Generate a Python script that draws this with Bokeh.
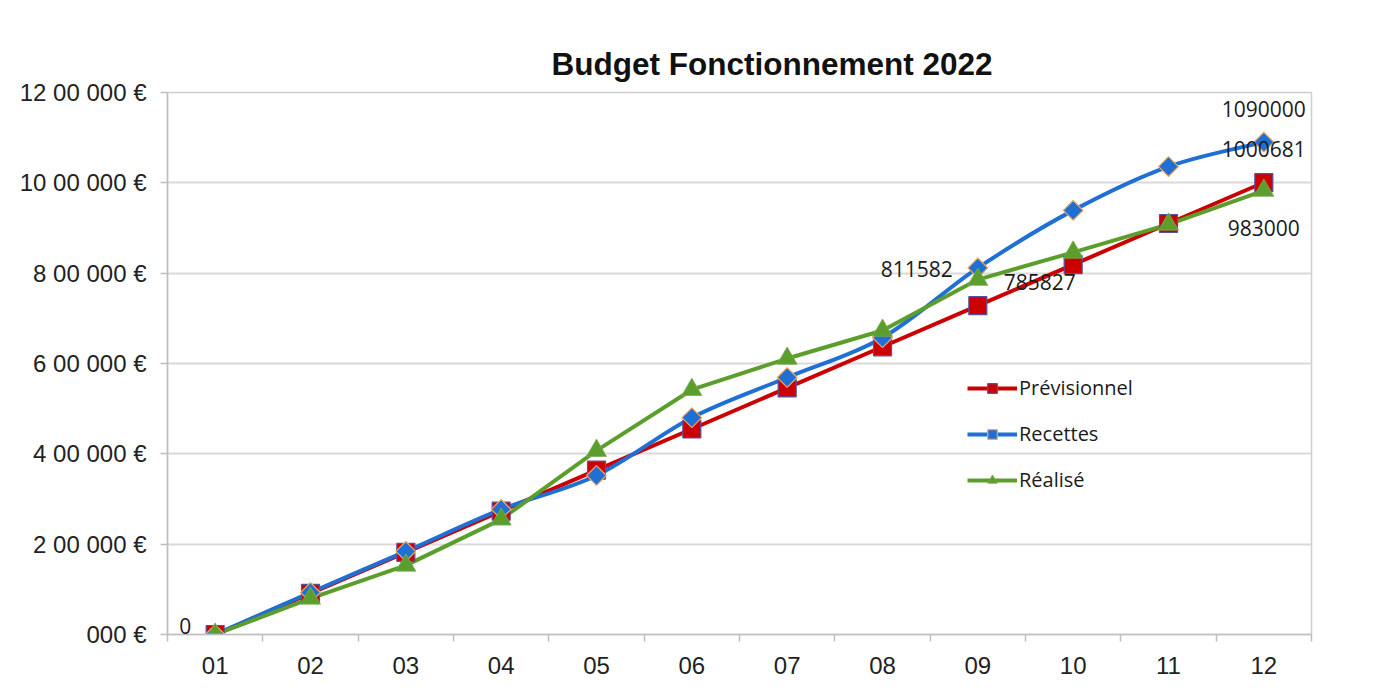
import math
from bokeh.plotting import figure
from bokeh.models import FixedTicker, Legend, LegendItem, ColumnDataSource, Label
from bokeh.embed import file_html
from bokeh.resources import INLINE

# ---- data ----
months = ["01", "02", "03", "04", "05", "06", "07", "08", "09", "10", "11", "12"]
previsionnel = [0, 91000, 182000, 273000, 364000, 455000, 546000, 637000, 728000, 819000, 910000, 1000681]
recettes = [0, 93000, 184000, 277000, 352000, 480000, 569000, 657000, 811582, 939000, 1036000, 1090000]
realise = [0, 80000, 153000, 255000, 407000, 542000, 611000, 673000, 785827, 846000, 908000, 983000]
y_ticks = [0, 200000, 400000, 600000, 800000, 1000000, 1200000]
y_tick_labels = ["000 €", "2 00 000 €", "4 00 000 €", "6 00 000 €", "8 00 000 €", "10 00 000 €", "12 00 000 €"]
title_text = "Budget Fonctionnement 2022"
series_names = ["Prévisionnel", "Recettes", "Réalisé"]

RED = "#cc0000"
BLUE = "#1f6fd4"
GREEN = "#5c9e2b"

xs = list(range(1, len(months) + 1))

p = figure(width=1389, height=686, output_backend="svg", toolbar_location=None,
           x_range=(0.5, 12.5), y_range=(0, 1200000),
           min_border_left=167, min_border_right=78, min_border_top=92, min_border_bottom=52,
           title=title_text)
p.border_fill_color = "white"
p.background_fill_color = "white"
p.outline_line_color = "#cfcfcf"
p.outline_line_width = 1.5

p.title.align = "left"
p.title.offset = 384
p.title.standoff = 22
p.title.text_font = "Liberation Sans"
p.title.text_font_size = "31.5px"
p.title.text_font_style = "bold"
p.title.text_color = "#111111"

# axes
xa = p.xaxis[0]
xa.ticker = FixedTicker(ticks=xs, minor_ticks=[x + 0.5 for x in range(0, 13)])
xa.major_label_overrides = {x: m for x, m in zip(xs, months)}
xa.major_tick_line_color = None
xa.major_tick_out = 0
xa.major_tick_in = 0
xa.minor_tick_line_color = "#bfbfbf"
xa.minor_tick_line_width = 1.5
xa.minor_tick_out = 7
xa.minor_tick_in = 0
xa.axis_line_color = "#bfbfbf"
xa.axis_line_width = 1.5
xa.major_label_text_font = "Liberation Sans"
xa.major_label_text_font_size = "24px"
xa.major_label_text_color = "#222222"
xa.major_label_standoff = 15

ya = p.yaxis[0]
ya.ticker = FixedTicker(ticks=y_ticks, minor_ticks=[])
ya.major_label_overrides = {t: l for t, l in zip(y_ticks, y_tick_labels)}
ya.major_tick_line_color = "#bfbfbf"
ya.major_tick_line_width = 1.5
ya.major_tick_out = 7
ya.major_tick_in = 0
ya.minor_tick_line_color = None
ya.axis_line_color = "#bfbfbf"
ya.axis_line_width = 1.5
ya.major_label_text_font = "Liberation Sans"
ya.major_label_text_font_size = "24px"
ya.major_label_text_color = "#222222"
ya.major_label_standoff = 14

p.xgrid.grid_line_color = None
p.ygrid.grid_line_color = "#d9d9d9"
p.ygrid.grid_line_width = 2

# lines
r_prev_line = p.line(xs, previsionnel, line_color=RED, line_width=4)

# Recettes drawn smoothed (Catmull-Rom -> cubic bezier) from its data points
n = len(xs)
bx0, by0, bx1, by1, bcx0, bcy0, bcx1, bcy1 = [], [], [], [], [], [], [], []
for i in range(n - 1):
    xm, ym = (xs[i - 1], recettes[i - 1]) if i > 0 else (xs[i], recettes[i])
    xp2, yp2 = (xs[i + 2], recettes[i + 2]) if i + 2 < n else (xs[i + 1], recettes[i + 1])
    bx0.append(xs[i]); by0.append(recettes[i])
    bx1.append(xs[i + 1]); by1.append(recettes[i + 1])
    bcx0.append(xs[i] + (xs[i + 1] - xm) / 6.0)
    bcy0.append(recettes[i] + (recettes[i + 1] - ym) / 6.0)
    bcx1.append(xs[i + 1] - (xp2 - xs[i]) / 6.0)
    bcy1.append(recettes[i + 1] - (yp2 - recettes[i]) / 6.0)
bsrc = ColumnDataSource(dict(x0=bx0, y0=by0, x1=bx1, y1=by1, cx0=bcx0, cy0=bcy0, cx1=bcx1, cy1=bcy1))
r_rec_line = p.bezier(x0="x0", y0="y0", x1="x1", y1="y1", cx0="cx0", cy0="cy0", cx1="cx1", cy1="cy1",
                      source=bsrc, line_color=BLUE, line_width=4)

r_real_line = p.line(xs, realise, line_color=GREEN, line_width=4)

# markers
r_prev_m = p.scatter(xs, previsionnel, marker="square", size=18, fill_color=RED,
                     line_color="#5a4fa0", line_width=1.2)
r_rec_m = p.scatter(xs, recettes, marker="square", angle=math.pi / 4, size=14, fill_color=BLUE,
                    line_color="#f0a860", line_width=1.2)
r_real_m = p.scatter(xs, realise, marker="triangle", size=20, fill_color=GREEN,
                     line_color="#7aa85a", line_width=0.8)

# data labels
def add_label(i, series, dx, dy, align):
    p.add_layout(Label(x=xs[i], y=series[i], text=str(series[i]), x_offset=dx, y_offset=dy,
                       text_align=align, text_baseline="middle", text_font="Open Sans",
                       text_font_size="21px", text_color="#1a1a1a"))

add_label(0, previsionnel, -30, 9, "center")
add_label(8, recettes, -25, -1, "right")
add_label(8, realise, 26, -2, "left")
add_label(11, recettes, 0, 33, "center")
add_label(11, previsionnel, 0, 34, "center")
add_label(11, realise, 0, -37, "center")

legend = Legend(items=[
    LegendItem(label=series_names[0], renderers=[r_prev_line, r_prev_m]),
    LegendItem(label=series_names[1], renderers=[r_rec_line, r_rec_m]),
    LegendItem(label=series_names[2], renderers=[r_real_line, r_real_m]),
], location=(800, 141))
legend.background_fill_alpha = 0
legend.border_line_color = None
legend.padding = 0
legend.margin = 0
legend.glyph_width = 50
legend.glyph_height = 24
legend.label_height = 24
legend.spacing = 19
legend.label_standoff = 2
legend.label_text_font = "Open Sans"
legend.label_text_font_size = "20px"
legend.label_text_color = "#1a1a1a"
p.add_layout(legend, "center")

open("out.html", "w").write(file_html(p, INLINE))
